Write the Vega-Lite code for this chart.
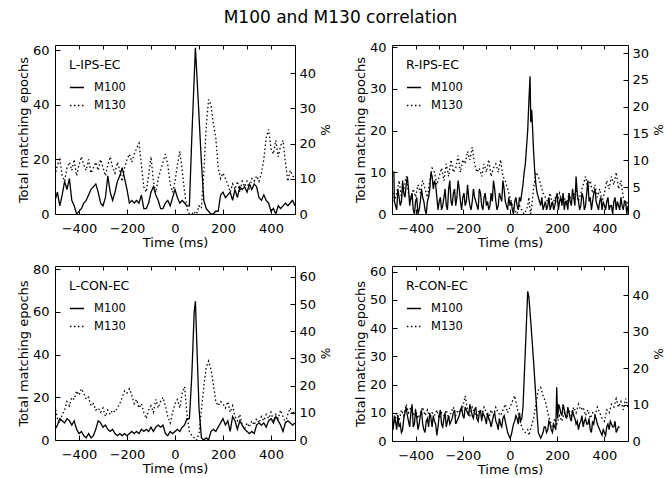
{
"$schema": "https://vega.github.io/schema/vega-lite/v6.json",
"background": "white",
"padding": {"left": 16, "top": 8, "right": 3, "bottom": 2},
"title": {"text": "M100 and M130 correlation", "font": "DejaVu Sans", "fontSize": 17, "fontWeight": "normal", "color": "black", "anchor": "middle", "offset": 14},
"datasets": {
"lipsec": [
{"t":-500,"M100":5,"M130":14},{"t":-490,"M100":8,"M130":18},{"t":-480,"M100":3,"M130":20},{"t":-470,"M100":7,"M130":14},{"t":-460,"M100":12,"M130":12},{"t":-450,"M100":9,"M130":17},{"t":-440,"M100":13,"M130":19},{"t":-430,"M100":5,"M130":16},{"t":-420,"M100":3,"M130":20},{"t":-410,"M100":0,"M130":14},{"t":-400,"M100":1,"M130":18},{"t":-390,"M100":2,"M130":21},{"t":-380,"M100":4,"M130":18},{"t":-370,"M100":5,"M130":16},{"t":-360,"M100":7,"M130":20},{"t":-350,"M100":9,"M130":15},{"t":-340,"M100":10,"M130":17},{"t":-330,"M100":11,"M130":19},{"t":-320,"M100":8,"M130":16},{"t":-310,"M100":4,"M130":20},{"t":-300,"M100":3,"M130":17},{"t":-290,"M100":6,"M130":14},{"t":-280,"M100":14,"M130":18},{"t":-270,"M100":8,"M130":21},{"t":-260,"M100":5,"M130":17},{"t":-250,"M100":8,"M130":15},{"t":-240,"M100":12,"M130":19},{"t":-230,"M100":14,"M130":16},{"t":-220,"M100":17,"M130":12},{"t":-210,"M100":13,"M130":17},{"t":-200,"M100":9,"M130":20},{"t":-190,"M100":4,"M130":22},{"t":-180,"M100":5,"M130":19},{"t":-170,"M100":4,"M130":22},{"t":-160,"M100":5,"M130":24},{"t":-150,"M100":4,"M130":26},{"t":-140,"M100":7,"M130":18},{"t":-130,"M100":2,"M130":10},{"t":-120,"M100":2,"M130":8},{"t":-110,"M100":4,"M130":14},{"t":-100,"M100":8,"M130":21},{"t":-90,"M100":10,"M130":12},{"t":-80,"M100":7,"M130":8},{"t":-70,"M100":5,"M130":13},{"t":-60,"M100":2,"M130":16},{"t":-50,"M100":2,"M130":19},{"t":-40,"M100":4,"M130":22},{"t":-30,"M100":5,"M130":18},{"t":-20,"M100":3,"M130":11},{"t":-10,"M100":6,"M130":8},{"t":0,"M100":9,"M130":12},{"t":10,"M100":6,"M130":18},{"t":20,"M100":4,"M130":23},{"t":30,"M100":5,"M130":16},{"t":40,"M100":4,"M130":8},{"t":50,"M100":3,"M130":2},{"t":60,"M100":3,"M130":0},{"t":70,"M100":28,"M130":0},{"t":80,"M100":50,"M130":1},{"t":85,"M100":61,"M130":0},{"t":90,"M100":53,"M130":0},{"t":100,"M100":36,"M130":3},{"t":110,"M100":19,"M130":2},{"t":120,"M100":5,"M130":15},{"t":130,"M100":2,"M130":32},{"t":140,"M100":1,"M130":42},{"t":150,"M100":0,"M130":40},{"t":160,"M100":0,"M130":33},{"t":170,"M100":1,"M130":28},{"t":180,"M100":1,"M130":17},{"t":190,"M100":7,"M130":13},{"t":200,"M100":8,"M130":15},{"t":210,"M100":6,"M130":13},{"t":220,"M100":7,"M130":11},{"t":230,"M100":8,"M130":8},{"t":240,"M100":5,"M130":11},{"t":250,"M100":9,"M130":9},{"t":260,"M100":6,"M130":12},{"t":270,"M100":10,"M130":8},{"t":280,"M100":9,"M130":12},{"t":290,"M100":10,"M130":10},{"t":300,"M100":8,"M130":12},{"t":310,"M100":11,"M130":9},{"t":320,"M100":9,"M130":13},{"t":330,"M100":11,"M130":12},{"t":340,"M100":10,"M130":14},{"t":350,"M100":6,"M130":12},{"t":360,"M100":5,"M130":15},{"t":370,"M100":7,"M130":20},{"t":380,"M100":5,"M130":28},{"t":390,"M100":4,"M130":31},{"t":400,"M100":1,"M130":24},{"t":410,"M100":2,"M130":22},{"t":420,"M100":0,"M130":27},{"t":430,"M100":3,"M130":21},{"t":440,"M100":2,"M130":25},{"t":450,"M100":3,"M130":27},{"t":460,"M100":4,"M130":19},{"t":470,"M100":3,"M130":12},{"t":480,"M100":4,"M130":16},{"t":490,"M100":5,"M130":14},{"t":500,"M100":3,"M130":13}
],
"ripsec": [
{"t":-500,"M100":10,"M130":6},{"t":-492,"M100":10,"M130":4},{"t":-490,"M100":3,"M130":3},{"t":-480,"M100":1,"M130":5},{"t":-470,"M100":4,"M130":8},{"t":-460,"M100":3,"M130":4},{"t":-450,"M100":5,"M130":6},{"t":-440,"M100":7,"M130":9},{"t":-430,"M100":6,"M130":5},{"t":-420,"M100":4,"M130":3},{"t":-410,"M100":1,"M130":6},{"t":-400,"M100":3,"M130":4},{"t":-390,"M100":0,"M130":7},{"t":-380,"M100":3,"M130":5},{"t":-370,"M100":4,"M130":8},{"t":-360,"M100":1,"M130":6},{"t":-350,"M100":3,"M130":4},{"t":-340,"M100":6,"M130":8},{"t":-330,"M100":9,"M130":11},{"t":-320,"M100":8,"M130":10},{"t":-310,"M100":4,"M130":7},{"t":-300,"M100":3,"M130":9},{"t":-290,"M100":1,"M130":11},{"t":-280,"M100":4,"M130":8},{"t":-270,"M100":2,"M130":12},{"t":-260,"M100":6,"M130":9},{"t":-250,"M100":3,"M130":13},{"t":-240,"M100":5,"M130":10},{"t":-230,"M100":2,"M130":11},{"t":-220,"M100":8,"M130":14},{"t":-210,"M100":3,"M130":10},{"t":-200,"M100":4,"M130":13},{"t":-190,"M100":2,"M130":12},{"t":-180,"M100":7,"M130":15},{"t":-170,"M100":2,"M130":13},{"t":-160,"M100":3,"M130":16},{"t":-150,"M100":4,"M130":12},{"t":-140,"M100":2,"M130":10},{"t":-130,"M100":6,"M130":11},{"t":-120,"M100":2,"M130":9},{"t":-110,"M100":4,"M130":12},{"t":-100,"M100":2,"M130":10},{"t":-90,"M100":1,"M130":13},{"t":-80,"M100":5,"M130":9},{"t":-70,"M100":8,"M130":11},{"t":-60,"M100":3,"M130":12},{"t":-50,"M100":2,"M130":10},{"t":-40,"M100":4,"M130":13},{"t":-30,"M100":8,"M130":9},{"t":-20,"M100":3,"M130":8},{"t":-10,"M100":1,"M130":6},{"t":0,"M100":2,"M130":4},{"t":10,"M100":1,"M130":2},{"t":20,"M100":3,"M130":1},{"t":30,"M100":2,"M130":0},{"t":40,"M100":4,"M130":2},{"t":50,"M100":5,"M130":1},{"t":60,"M100":10,"M130":0},{"t":70,"M100":16,"M130":1},{"t":75,"M100":20,"M130":2},{"t":80,"M100":27,"M130":4},{"t":85,"M100":33,"M130":1},{"t":88,"M100":22,"M130":0},{"t":92,"M100":25,"M130":2},{"t":100,"M100":15,"M130":6},{"t":110,"M100":7,"M130":10},{"t":120,"M100":4,"M130":9},{"t":130,"M100":2,"M130":7},{"t":140,"M100":1,"M130":5},{"t":150,"M100":3,"M130":4},{"t":160,"M100":2,"M130":3},{"t":170,"M100":1,"M130":5},{"t":180,"M100":3,"M130":2},{"t":190,"M100":2,"M130":4},{"t":200,"M100":5,"M130":3},{"t":210,"M100":3,"M130":5},{"t":220,"M100":2,"M130":3},{"t":230,"M100":1,"M130":4},{"t":240,"M100":3,"M130":2},{"t":250,"M100":5,"M130":5},{"t":260,"M100":2,"M130":3},{"t":270,"M100":4,"M130":4},{"t":280,"M100":9,"M130":6},{"t":290,"M100":3,"M130":3},{"t":300,"M100":2,"M130":5},{"t":310,"M100":4,"M130":7},{"t":320,"M100":2,"M130":9},{"t":330,"M100":8,"M130":6},{"t":340,"M100":4,"M130":8},{"t":350,"M100":3,"M130":5},{"t":360,"M100":6,"M130":7},{"t":370,"M100":2,"M130":4},{"t":380,"M100":3,"M130":6},{"t":390,"M100":1,"M130":3},{"t":400,"M100":2,"M130":5},{"t":410,"M100":3,"M130":8},{"t":420,"M100":1,"M130":6},{"t":430,"M100":2,"M130":9},{"t":440,"M100":3,"M130":7},{"t":450,"M100":1,"M130":10},{"t":460,"M100":2,"M130":6},{"t":470,"M100":4,"M130":8},{"t":480,"M100":1,"M130":4},{"t":490,"M100":3,"M130":2},{"t":500,"M100":2,"M130":3},
{"t":-485,"M100":2},{"t":-475,"M100":6},{"t":-465,"M100":2},{"t":-455,"M100":8},{"t":-445,"M100":4},{"t":-435,"M100":9},{"t":-425,"M100":2},{"t":-415,"M100":5},{"t":-405,"M100":0},{"t":-395,"M100":4},{"t":-385,"M100":1},{"t":-375,"M100":6},{"t":-365,"M100":3},{"t":-355,"M100":0},{"t":-345,"M100":4},{"t":-335,"M100":10},{"t":-325,"M100":6},{"t":-315,"M100":7},{"t":-305,"M100":1},{"t":-295,"M100":4},{"t":-285,"M100":2},{"t":-275,"M100":6},{"t":-265,"M100":1},{"t":-255,"M100":8},{"t":-245,"M100":2},{"t":-235,"M100":6},{"t":-225,"M100":4},{"t":-215,"M100":6},{"t":-205,"M100":1},{"t":-195,"M100":5},{"t":-185,"M100":3},{"t":-175,"M100":4},{"t":-165,"M100":1},{"t":-155,"M100":6},{"t":-145,"M100":3},{"t":-135,"M100":1},{"t":-125,"M100":5},{"t":-115,"M100":1},{"t":-105,"M100":5},{"t":-95,"M100":3},{"t":-85,"M100":2},{"t":-75,"M100":3},{"t":-65,"M100":6},{"t":-55,"M100":1},{"t":-45,"M100":5},{"t":-35,"M100":3},{"t":-25,"M100":6},{"t":-15,"M100":2},{"t":-5,"M100":4},{"t":5,"M100":3},{"t":15,"M100":0},{"t":25,"M100":4},{"t":35,"M100":1},{"t":45,"M100":3},{"t":55,"M100":7},{"t":65,"M100":12},{"t":105,"M100":10},{"t":115,"M100":5},{"t":125,"M100":3},{"t":135,"M100":4},{"t":145,"M100":2},{"t":155,"M100":1},{"t":165,"M100":4},{"t":175,"M100":2},{"t":185,"M100":1},{"t":195,"M100":4},{"t":205,"M100":1},{"t":215,"M100":4},{"t":225,"M100":5},{"t":235,"M100":3},{"t":245,"M100":1},{"t":255,"M100":3},{"t":265,"M100":6},{"t":275,"M100":2},{"t":285,"M100":5},{"t":295,"M100":1},{"t":305,"M100":5},{"t":315,"M100":1},{"t":325,"M100":5},{"t":335,"M100":3},{"t":345,"M100":1},{"t":355,"M100":5},{"t":365,"M100":3},{"t":375,"M100":1},{"t":385,"M100":4},{"t":395,"M100":3},{"t":405,"M100":1},{"t":415,"M100":4},{"t":425,"M100":2},{"t":435,"M100":0},{"t":445,"M100":4},{"t":455,"M100":3},{"t":465,"M100":1},{"t":475,"M100":2},{"t":485,"M100":3},{"t":495,"M100":0}
],
"lconec": [
{"t":-500,"M100":5,"M130":16},{"t":-490,"M100":7,"M130":10},{"t":-480,"M100":10,"M130":8},{"t":-470,"M100":9,"M130":12},{"t":-460,"M100":8,"M130":14},{"t":-450,"M100":10,"M130":18},{"t":-440,"M100":9,"M130":16},{"t":-430,"M100":7,"M130":20},{"t":-420,"M100":9,"M130":19},{"t":-410,"M100":5,"M130":23},{"t":-400,"M100":3,"M130":21},{"t":-390,"M100":4,"M130":24},{"t":-380,"M100":2,"M130":22},{"t":-370,"M100":1,"M130":19},{"t":-360,"M100":3,"M130":20},{"t":-350,"M100":1,"M130":16},{"t":-340,"M100":2,"M130":17},{"t":-330,"M100":5,"M130":14},{"t":-320,"M100":9,"M130":15},{"t":-310,"M100":8,"M130":13},{"t":-300,"M100":6,"M130":15},{"t":-290,"M100":7,"M130":11},{"t":-280,"M100":5,"M130":14},{"t":-270,"M100":4,"M130":12},{"t":-260,"M100":5,"M130":14},{"t":-250,"M100":3,"M130":13},{"t":-240,"M100":2,"M130":15},{"t":-230,"M100":3,"M130":17},{"t":-220,"M100":2,"M130":20},{"t":-210,"M100":3,"M130":23},{"t":-200,"M100":2,"M130":22},{"t":-190,"M100":3,"M130":24},{"t":-180,"M100":4,"M130":21},{"t":-170,"M100":3,"M130":17},{"t":-160,"M100":4,"M130":19},{"t":-150,"M100":3,"M130":15},{"t":-140,"M100":5,"M130":17},{"t":-130,"M100":4,"M130":13},{"t":-120,"M100":5,"M130":10},{"t":-110,"M100":4,"M130":14},{"t":-100,"M100":6,"M130":16},{"t":-90,"M100":4,"M130":13},{"t":-80,"M100":6,"M130":19},{"t":-70,"M100":7,"M130":15},{"t":-60,"M100":6,"M130":18},{"t":-50,"M100":7,"M130":20},{"t":-40,"M100":3,"M130":16},{"t":-30,"M100":2,"M130":11},{"t":-20,"M100":4,"M130":8},{"t":-10,"M100":3,"M130":13},{"t":0,"M100":4,"M130":17},{"t":10,"M100":5,"M130":19},{"t":20,"M100":4,"M130":15},{"t":30,"M100":6,"M130":22},{"t":40,"M100":7,"M130":25},{"t":50,"M100":10,"M130":12},{"t":60,"M100":10,"M130":4},{"t":70,"M100":30,"M130":2},{"t":80,"M100":60,"M130":1},{"t":85,"M100":65,"M130":0},{"t":90,"M100":48,"M130":0},{"t":100,"M100":15,"M130":3},{"t":110,"M100":1,"M130":14},{"t":120,"M100":0,"M130":25},{"t":130,"M100":1,"M130":34},{"t":140,"M100":0,"M130":37},{"t":150,"M100":4,"M130":33},{"t":160,"M100":5,"M130":26},{"t":170,"M100":4,"M130":18},{"t":180,"M100":6,"M130":16},{"t":190,"M100":8,"M130":18},{"t":200,"M100":10,"M130":17},{"t":210,"M100":7,"M130":15},{"t":220,"M100":9,"M130":18},{"t":230,"M100":4,"M130":13},{"t":240,"M100":11,"M130":16},{"t":250,"M100":9,"M130":11},{"t":260,"M100":5,"M130":9},{"t":270,"M100":9,"M130":12},{"t":280,"M100":7,"M130":7},{"t":290,"M100":5,"M130":5},{"t":300,"M100":4,"M130":8},{"t":310,"M100":3,"M130":6},{"t":320,"M100":4,"M130":9},{"t":330,"M100":3,"M130":7},{"t":340,"M100":7,"M130":10},{"t":350,"M100":8,"M130":8},{"t":360,"M100":7,"M130":11},{"t":370,"M100":8,"M130":9},{"t":380,"M100":6,"M130":12},{"t":390,"M100":9,"M130":10},{"t":400,"M100":10,"M130":13},{"t":410,"M100":8,"M130":9},{"t":420,"M100":11,"M130":12},{"t":430,"M100":9,"M130":10},{"t":440,"M100":7,"M130":14},{"t":450,"M100":4,"M130":11},{"t":460,"M100":8,"M130":8},{"t":470,"M100":9,"M130":12},{"t":480,"M100":8,"M130":15},{"t":490,"M100":7,"M130":12},{"t":500,"M100":8,"M130":14}
],
"rconec": [
{"t":-500,"M100":6,"M130":8},{"t":-490,"M100":9,"M130":6},{"t":-480,"M100":4,"M130":10},{"t":-470,"M100":5,"M130":7},{"t":-460,"M100":3,"M130":11},{"t":-450,"M100":8,"M130":9},{"t":-440,"M100":12,"M130":13},{"t":-430,"M100":7,"M130":10},{"t":-420,"M100":10,"M130":12},{"t":-410,"M100":5,"M130":9},{"t":-400,"M100":11,"M130":11},{"t":-390,"M100":4,"M130":8},{"t":-380,"M100":9,"M130":10},{"t":-370,"M100":6,"M130":12},{"t":-360,"M100":3,"M130":9},{"t":-350,"M100":8,"M130":11},{"t":-340,"M100":10,"M130":8},{"t":-330,"M100":5,"M130":10},{"t":-320,"M100":7,"M130":9},{"t":-310,"M100":2,"M130":11},{"t":-300,"M100":9,"M130":8},{"t":-290,"M100":6,"M130":10},{"t":-280,"M100":8,"M130":9},{"t":-270,"M100":5,"M130":11},{"t":-260,"M100":9,"M130":8},{"t":-250,"M100":7,"M130":10},{"t":-240,"M100":10,"M130":12},{"t":-230,"M100":6,"M130":9},{"t":-220,"M100":8,"M130":11},{"t":-210,"M100":11,"M130":10},{"t":-200,"M100":9,"M130":12},{"t":-190,"M100":12,"M130":16},{"t":-180,"M100":10,"M130":11},{"t":-170,"M100":13,"M130":9},{"t":-160,"M100":9,"M130":12},{"t":-150,"M100":11,"M130":10},{"t":-140,"M100":8,"M130":8},{"t":-130,"M100":10,"M130":11},{"t":-120,"M100":7,"M130":9},{"t":-110,"M100":9,"M130":12},{"t":-100,"M100":6,"M130":10},{"t":-90,"M100":8,"M130":8},{"t":-80,"M100":5,"M130":11},{"t":-70,"M100":9,"M130":9},{"t":-60,"M100":7,"M130":12},{"t":-50,"M100":4,"M130":10},{"t":-40,"M100":6,"M130":9},{"t":-30,"M100":8,"M130":11},{"t":-20,"M100":7,"M130":13},{"t":-10,"M100":3,"M130":10},{"t":0,"M100":1,"M130":12},{"t":10,"M100":4,"M130":14},{"t":20,"M100":7,"M130":16},{"t":30,"M100":8,"M130":12},{"t":40,"M100":10,"M130":8},{"t":50,"M100":8,"M130":5},{"t":55,"M100":12,"M130":4},{"t":65,"M100":32,"M130":3},{"t":75,"M100":53,"M130":4},{"t":80,"M100":51,"M130":2},{"t":90,"M100":40,"M130":5},{"t":100,"M100":28,"M130":8},{"t":110,"M100":15,"M130":13},{"t":120,"M100":3,"M130":18},{"t":130,"M100":1,"M130":19},{"t":140,"M100":3,"M130":16},{"t":150,"M100":5,"M130":14},{"t":160,"M100":4,"M130":10},{"t":170,"M100":6,"M130":7},{"t":180,"M100":3,"M130":5},{"t":190,"M100":5,"M130":8},{"t":198,"M100":19,"M130":6},{"t":202,"M100":8,"M130":7},{"t":210,"M100":12,"M130":9},{"t":220,"M100":9,"M130":7},{"t":230,"M100":11,"M130":10},{"t":240,"M100":8,"M130":8},{"t":250,"M100":10,"M130":11},{"t":260,"M100":7,"M130":9},{"t":270,"M100":9,"M130":12},{"t":280,"M100":6,"M130":10},{"t":290,"M100":4,"M130":13},{"t":300,"M100":7,"M130":11},{"t":310,"M100":5,"M130":12},{"t":320,"M100":8,"M130":9},{"t":330,"M100":6,"M130":11},{"t":340,"M100":4,"M130":8},{"t":350,"M100":7,"M130":10},{"t":360,"M100":9,"M130":9},{"t":370,"M100":6,"M130":12},{"t":380,"M100":4,"M130":10},{"t":390,"M100":2,"M130":8},{"t":400,"M100":3,"M130":7},{"t":410,"M100":5,"M130":11},{"t":420,"M100":4,"M130":10},{"t":430,"M100":6,"M130":13},{"t":440,"M100":5,"M130":12},{"t":450,"M100":3,"M130":15},{"t":460,"M100":5,"M130":12},{"t":470,"M130":14},{"t":480,"M130":11},{"t":490,"M130":15},{"t":500,"M130":12},
{"t":-495,"M100":4},{"t":-485,"M100":7},{"t":-475,"M100":9},{"t":-465,"M100":6},{"t":-455,"M100":4},{"t":-445,"M100":10},{"t":-435,"M100":9},{"t":-425,"M100":5},{"t":-415,"M100":13},{"t":-405,"M100":6},{"t":-395,"M100":8},{"t":-385,"M100":6},{"t":-375,"M100":11},{"t":-365,"M100":4},{"t":-355,"M100":7},{"t":-345,"M100":5},{"t":-335,"M100":8},{"t":-325,"M100":9},{"t":-315,"M100":6},{"t":-305,"M100":5},{"t":-295,"M100":11},{"t":-285,"M100":5},{"t":-275,"M100":10},{"t":-265,"M100":7},{"t":-255,"M100":6},{"t":-245,"M100":8},{"t":-235,"M100":11},{"t":-225,"M100":7},{"t":-215,"M100":9},{"t":-205,"M100":12},{"t":-195,"M100":8},{"t":-185,"M100":11},{"t":-175,"M100":9},{"t":-165,"M100":11},{"t":-155,"M100":8},{"t":-145,"M100":12},{"t":-135,"M100":7},{"t":-125,"M100":11},{"t":-115,"M100":10},{"t":-105,"M100":8},{"t":-95,"M100":10},{"t":-85,"M100":7},{"t":-75,"M100":7},{"t":-65,"M100":10},{"t":-55,"M100":6},{"t":-45,"M100":8},{"t":-35,"M100":5},{"t":-25,"M100":9},{"t":-15,"M100":5},{"t":-5,"M100":2},{"t":5,"M100":2},{"t":15,"M100":6},{"t":25,"M100":9},{"t":35,"M100":6},{"t":45,"M100":7},{"t":145,"M100":5},{"t":155,"M100":3},{"t":165,"M100":7},{"t":175,"M100":4},{"t":185,"M100":6},{"t":194,"M100":4},{"t":206,"M100":13},{"t":215,"M100":10},{"t":225,"M100":13},{"t":235,"M100":9},{"t":245,"M100":12},{"t":255,"M100":8},{"t":265,"M100":11},{"t":275,"M100":8},{"t":285,"M100":7},{"t":295,"M100":6},{"t":305,"M100":9},{"t":315,"M100":7},{"t":325,"M100":6},{"t":335,"M100":8},{"t":345,"M100":3},{"t":355,"M100":6},{"t":365,"M100":8},{"t":375,"M100":5},{"t":385,"M100":3},{"t":395,"M100":4},{"t":405,"M100":2},{"t":415,"M100":6},{"t":425,"M100":7},{"t":435,"M100":5},{"t":445,"M100":7},{"t":455,"M100":4},{"t":465,"M100":5}
]
},
"columns": 2,
"spacing": {"row": 12, "column": 21},
"resolve": {"scale": {"strokeDash": "independent"}, "legend": {"strokeDash": "independent"}},
"concat": [
{
"width": 240, "height": 169,
"data": {"name": "lipsec"},
"transform": [{"fold": ["M100", "M130"], "as": ["series", "v"]}, {"filter": "isValid(datum.v)"}],
"layer": [
{"mark": {"type": "line", "color": "black", "strokeWidth": 1.3, "clip": true},
"encoding": {
"x": {"field": "t", "type": "quantitative", "scale": {"domain": [-500, 500], "nice": false, "zero": false}, "axis": {"title": "Time (ms)", "values": [-400, -200, 0, 200, 400]}},
"y": {"field": "v", "type": "quantitative", "scale": {"domain": [0, 62], "nice": false}, "axis": {"title": "Total matching epochs", "values": [0, 20, 40, 60]}},
"strokeDash": {"field": "series", "type": "nominal", "scale": {"domain": ["M100", "M130"], "range": [[1, 0], [1.5, 2.5]]}, "legend": {"title": "L-IPS-EC", "orient": "top-left"}}
}},
{"mark": {"type": "rule", "strokeOpacity": 0, "clip": true},
"encoding": {"y": {"field": "v", "type": "quantitative", "scale": {"domain": [0, 48], "nice": false}, "axis": {"orient": "right", "title": "%", "values": [0, 10, 20, 30, 40]}}}},
{"mark": {"type": "rule", "strokeOpacity": 0, "clip": true},
"encoding": {"x": {"field": "t", "type": "quantitative", "axis": {"orient": "top", "title": null, "labels": false, "values": [-400, -300, -200, -100, 0, 100, 200, 300, 400], "tickSize": -4}}}}
],
"resolve": {"scale": {"y": "independent"}, "axis": {"x": "independent"}}
},
{
"width": 236, "height": 169,
"data": {"name": "ripsec"},
"transform": [{"fold": ["M100", "M130"], "as": ["series", "v"]}, {"filter": "isValid(datum.v)"}],
"layer": [
{"mark": {"type": "line", "color": "black", "strokeWidth": 1.3, "clip": true},
"encoding": {
"x": {"field": "t", "type": "quantitative", "scale": {"domain": [-500, 500], "nice": false, "zero": false}, "axis": {"title": "Time (ms)", "values": [-400, -200, 0, 200, 400]}},
"y": {"field": "v", "type": "quantitative", "scale": {"domain": [0, 40.5], "nice": false}, "axis": {"title": "Total matching epochs", "values": [0, 10, 20, 30, 40]}},
"strokeDash": {"field": "series", "type": "nominal", "scale": {"domain": ["M100", "M130"], "range": [[1, 0], [1.5, 2.5]]}, "legend": {"title": "R-IPS-EC", "orient": "top-left"}}
}},
{"mark": {"type": "rule", "strokeOpacity": 0, "clip": true},
"encoding": {"y": {"field": "v", "type": "quantitative", "scale": {"domain": [0, 31.5], "nice": false}, "axis": {"orient": "right", "title": "%", "values": [0, 5, 10, 15, 20, 25, 30]}}}},
{"mark": {"type": "rule", "strokeOpacity": 0, "clip": true},
"encoding": {"x": {"field": "t", "type": "quantitative", "axis": {"orient": "top", "title": null, "labels": false, "values": [-400, -300, -200, -100, 0, 100, 200, 300, 400], "tickSize": -4}}}}
],
"resolve": {"scale": {"y": "independent"}, "axis": {"x": "independent"}}
},
{
"width": 240, "height": 174,
"data": {"name": "lconec"},
"transform": [{"fold": ["M100", "M130"], "as": ["series", "v"]}, {"filter": "isValid(datum.v)"}],
"layer": [
{"mark": {"type": "line", "color": "black", "strokeWidth": 1.3, "clip": true},
"encoding": {
"x": {"field": "t", "type": "quantitative", "scale": {"domain": [-500, 500], "nice": false, "zero": false}, "axis": {"title": "Time (ms)", "values": [-400, -200, 0, 200, 400]}},
"y": {"field": "v", "type": "quantitative", "scale": {"domain": [0, 81.5], "nice": false}, "axis": {"title": "Total matching epochs", "values": [0, 20, 40, 60, 80]}},
"strokeDash": {"field": "series", "type": "nominal", "scale": {"domain": ["M100", "M130"], "range": [[1, 0], [1.5, 2.5]]}, "legend": {"title": "L-CON-EC", "orient": "top-left"}}
}},
{"mark": {"type": "rule", "strokeOpacity": 0, "clip": true},
"encoding": {"y": {"field": "v", "type": "quantitative", "scale": {"domain": [0, 64], "nice": false}, "axis": {"orient": "right", "title": "%", "values": [0, 10, 20, 30, 40, 50, 60]}}}},
{"mark": {"type": "rule", "strokeOpacity": 0, "clip": true},
"encoding": {"x": {"field": "t", "type": "quantitative", "axis": {"orient": "top", "title": null, "labels": false, "values": [-400, -300, -200, -100, 0, 100, 200, 300, 400], "tickSize": -4}}}}
],
"resolve": {"scale": {"y": "independent"}, "axis": {"x": "independent"}}
},
{
"width": 236, "height": 175,
"data": {"name": "rconec"},
"transform": [{"fold": ["M100", "M130"], "as": ["series", "v"]}, {"filter": "isValid(datum.v)"}],
"layer": [
{"mark": {"type": "line", "color": "black", "strokeWidth": 1.3, "clip": true},
"encoding": {
"x": {"field": "t", "type": "quantitative", "scale": {"domain": [-500, 500], "nice": false, "zero": false}, "axis": {"title": "Time (ms)", "values": [-400, -200, 0, 200, 400]}},
"y": {"field": "v", "type": "quantitative", "scale": {"domain": [0, 62], "nice": false}, "axis": {"title": "Total matching epochs", "values": [0, 10, 20, 30, 40, 50, 60]}},
"strokeDash": {"field": "series", "type": "nominal", "scale": {"domain": ["M100", "M130"], "range": [[1, 0], [1.5, 2.5]]}, "legend": {"title": "R-CON-EC", "orient": "top-left"}}
}},
{"mark": {"type": "rule", "strokeOpacity": 0, "clip": true},
"encoding": {"y": {"field": "v", "type": "quantitative", "scale": {"domain": [0, 48], "nice": false}, "axis": {"orient": "right", "title": "%", "values": [0, 10, 20, 30, 40]}}}},
{"mark": {"type": "rule", "strokeOpacity": 0, "clip": true},
"encoding": {"x": {"field": "t", "type": "quantitative", "axis": {"orient": "top", "title": null, "labels": false, "values": [-400, -300, -200, -100, 0, 100, 200, 300, 400], "tickSize": -4}}}}
],
"resolve": {"scale": {"y": "independent"}, "axis": {"x": "independent"}}
}
],
"config": {
"font": "DejaVu Sans",
"view": {"stroke": "black", "strokeWidth": 1},
"axis": {"domain": false, "grid": false, "tickColor": "black", "tickSize": -5, "labelColor": "black", "titleColor": "black", "labelFont": "DejaVu Sans", "titleFont": "DejaVu Sans", "labelFontSize": 13, "titleFontSize": 13, "titleFontWeight": "normal", "labelPadding": 11},
"axisBottom": {"labelPadding": 13, "titlePadding": 1},
"axisLeft": {"titlePadding": 2},
"axisRight": {"labelPadding": 9, "titlePadding": 2, "titleFontSize": 12},
"legend": {"titleFont": "DejaVu Sans", "titleFontSize": 12.5, "titleFontWeight": "normal", "titleColor": "black", "labelFont": "DejaVu Sans", "labelFontSize": 11.5, "labelColor": "black", "symbolType": "stroke", "symbolStrokeColor": "black", "symbolStrokeWidth": 1.3, "symbolSize": 200, "offset": 14, "padding": 0, "rowPadding": 4, "titlePadding": 8, "labelOffset": 9}
}
}
